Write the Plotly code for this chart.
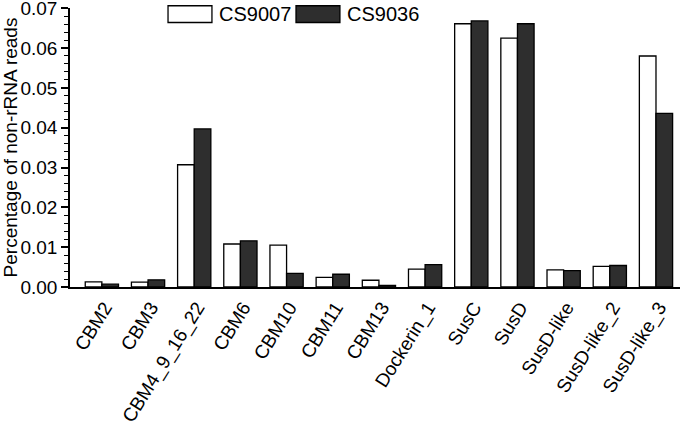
import plotly.graph_objects as go

categories = ["CBM2", "CBM3", "CBM4_9_16_22", "CBM6", "CBM10", "CBM11", "CBM13",
              "Dockerin_1", "SusC", "SusD", "SusD-like", "SusD-like_2", "SusD-like_3"]
cs9007 = [0.0013, 0.0012, 0.0307, 0.0108, 0.0105, 0.0024, 0.0017,
          0.0045, 0.0661, 0.0625, 0.0043, 0.0052, 0.0580]
cs9036 = [0.0007, 0.0018, 0.0397, 0.0116, 0.0034, 0.0032, 0.0004,
          0.0056, 0.0668, 0.0661, 0.0041, 0.0054, 0.0436]
series_names = ["CS9007", "CS9036"]
y_ticks = [0.00, 0.01, 0.02, 0.03, 0.04, 0.05, 0.06, 0.07]

FONT = "Liberation Sans, Arial, sans-serif"
FS = 19
fills = ["white", "#2e2e2e"]
x_idx = list(range(len(categories)))

fig = go.Figure()
for name, vals, col in zip(series_names, [cs9007, cs9036], fills):
    fig.add_trace(go.Bar(x=x_idx, y=vals, name=name,
                         marker=dict(color=col, line=dict(color="black", width=1.3))))

fig.update_layout(
    width=680, height=424,
    margin=dict(l=70, r=0, t=8, b=137),
    paper_bgcolor="white", plot_bgcolor="white",
    barmode="group", bargap=0.28, bargroupgap=0,
    showlegend=False,
    font=dict(family=FONT, size=FS, color="black"),
)
fig.update_xaxes(
    range=[-0.69, 12.52], tickmode="array", tickvals=x_idx, ticktext=categories,
    tickangle=-58, showline=True, linecolor="black", linewidth=2,
    ticks="", showgrid=False, zeroline=False, automargin=False,
    tickfont=dict(family=FONT, size=FS), ticklabeloverflow="allow",
    ticklabelshift=3,
)
fig.update_yaxes(
    range=[0, 0.07005], tickmode="array", tickvals=y_ticks,
    ticktext=[f"{v:.2f}" for v in y_ticks],
    showline=True, linecolor="black", linewidth=1.5,
    ticks="outside", ticklen=7, tickwidth=1.5, tickcolor="black",
    minor=dict(ticks="outside", ticklen=4, tickwidth=1, tickcolor="black", dtick=0.002),
    showgrid=False, zeroline=False, automargin=False, ticklabeloverflow="allow",
    title=dict(text="Percentage of non-rRNA reads", font=dict(family=FONT, size=FS)),
    tickfont=dict(family=FONT, size=FS),
)

# Legend drawn manually (large swatches as in the reference)
legend_items = [(0.1607, fills[0], series_names[0]), (0.3705, fills[1], series_names[1])]
for x0, col, name in legend_items:
    fig.add_shape(type="rect", xref="paper", yref="paper",
                  x0=x0, x1=x0 + 0.072, y0=0.948, y1=1.008,
                  fillcolor=col, line=dict(color="black", width=1.3))
    fig.add_annotation(xref="paper", yref="paper", x=x0 + 0.08, y=0.978,
                       text=name, showarrow=False, xanchor="left", yanchor="middle",
                       font=dict(family=FONT, size=20, color="black"))

fig.write_html("out.html", config={"displayModeBar": False},
               post_script="document.body.style.margin='0';")
